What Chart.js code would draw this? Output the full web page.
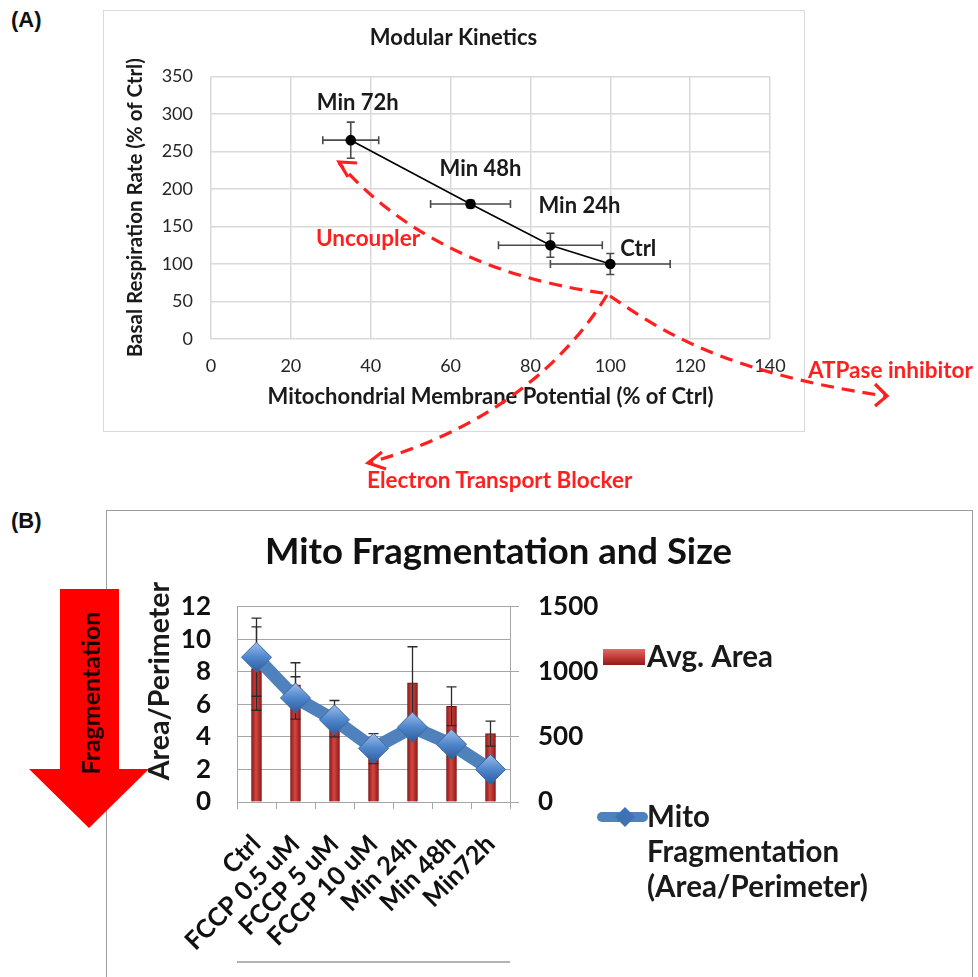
<!DOCTYPE html>
<html>
<head>
<meta charset="utf-8">
<script src="https://cdn.jsdelivr.net/npm/chart.js@4.4.1/dist/chart.umd.min.js"></script>
<style>
  body { margin: 0; background: #fff; }
  #page { position: relative; width: 978px; height: 977px; overflow: hidden; font-family: Lato, sans-serif; }
  #boxA { position: absolute; left: 103px; top: 10px; width: 700px; height: 420px; border: 1.5px solid #d9d9d9; }
  #boxB { position: absolute; left: 106px; top: 510px; width: 865px; height: 500px; border: 1.5px solid #9c9c9c; }
  #chartA { position: absolute; left: 103px; top: 10px; }
  #chartB { position: absolute; left: 107px; top: 510px; }
  #overlay { position: absolute; left: 0; top: 0; }
  .panel { position: absolute; font: bold 22px "Liberation Sans", Arial, sans-serif; color: #111; }
</style>
</head>
<body>
<div id="page">
  <div class="panel" style="left:11px;top:7px">(A)</div>
  <div class="panel" style="left:11px;top:508px">(B)</div>
  <div id="boxA"></div>
  <div id="boxB"></div>
  <canvas id="chartA" width="702" height="422"></canvas>
  <canvas id="chartB" width="866" height="467"></canvas>
  <svg id="overlay" width="978" height="977">
    <g fill="none" stroke="#ff1f1f" stroke-width="3.2" stroke-dasharray="13 8">
      <path d="M603,293 C530,283 420,255 339,163"/>
      <path d="M607,295 C578,342 512,423 368,463"/>
      <path d="M610,296 C660,330 722,372 885,396"/>
    </g>
    <g fill="none" stroke="#ff1f1f" stroke-width="3.2">
      <polyline points="357,163 339,162 348,177"/>
      <polyline points="382,452 368,463 386,469"/>
      <polyline points="875,384 887,396 875,406"/>
    </g>
    <g fill="#ff1f1f" font-family="Lato, sans-serif" font-weight="bold" font-size="22.5">
      <text x="316" y="246">Uncoupler</text>
      <text x="367" y="488">Electron Transport Blocker</text>
      <text x="808" y="378">ATPase inhibitor</text>
    </g>
    <polygon points="60,589 119,589 119,769 149,769 89,828 29,769 60,769" fill="#ff0000"/>
    <text transform="translate(90,693) rotate(-90)" text-anchor="middle" dominant-baseline="central"
          font-family="Lato, sans-serif" font-weight="bold" font-size="25" fill="#1a0000">Fragmentation</text>
    <line x1="237" y1="962" x2="510" y2="962" stroke="#b3b3b3" stroke-width="2"/>
  </svg>
</div>
<script>
// (A) Modular Kinetics
const stages = ["Ctrl", "Min 24h", "Min 48h", "Min 72h"];
const potential = [100, 85, 65, 35];
const potentialErr = [15, 13, 10, 7];
const respiration = [100, 125, 180, 265];
const respirationErr = [14, 16, 5, 24];
const potentialTicks = [0, 20, 40, 60, 80, 100, 120, 140];
const respirationTicks = [0, 50, 100, 150, 200, 250, 300, 350];

// (B) Mito Fragmentation and Size
const conditions = ["Ctrl", "FCCP 0.5 uM", "FCCP 5 uM", "FCCP 10 uM", "Min 24h", "Min 48h", "Min72h"];
const avgArea = [1025, 900, 640, 410, 915, 736, 526];
const avgAreaErr = [320, 170, 140, 115, 278, 149, 96];
const fragmentation = [8.9, 6.4, 5.05, 3.3, 4.6, 3.55, 2.0];
const fragmentationErr = [2.4, 1.3, 0.3, 0.3, 0.3, 0.3, 0.3];
const ratioTicks = [0, 2, 4, 6, 8, 10, 12];
const areaTicks = [0, 500, 1000, 1500];

// label placement for panel A (pixels from the point)
const labelOffsets = [[28, -15], [29, -39], [10, -35], [7, -37]];

Chart.defaults.font.family = "Lato, sans-serif";
Chart.defaults.color = "#1a1a1a";

const errorBarsA = {
    id: "errorBarsA",
    beforeDatasetsDraw(chart) {
        const { ctx, scales: { x, y } } = chart;
        ctx.save();
        ctx.strokeStyle = "#4a4a4a";
        ctx.lineWidth = 1.6;
        potential.forEach((p, i) => {
            const px = x.getPixelForValue(p);
            const py = y.getPixelForValue(respiration[i]);
            const xl = x.getPixelForValue(p - potentialErr[i]);
            const xr = x.getPixelForValue(p + potentialErr[i]);
            const yt = y.getPixelForValue(respiration[i] + respirationErr[i]);
            const yb = y.getPixelForValue(respiration[i] - respirationErr[i]);
            ctx.beginPath();
            ctx.moveTo(xl, py); ctx.lineTo(xr, py);
            ctx.moveTo(xl, py - 4); ctx.lineTo(xl, py + 4);
            ctx.moveTo(xr, py - 4); ctx.lineTo(xr, py + 4);
            ctx.moveTo(px, yt); ctx.lineTo(px, yb);
            ctx.moveTo(px - 4, yt); ctx.lineTo(px + 4, yt);
            ctx.moveTo(px - 4, yb); ctx.lineTo(px + 4, yb);
            ctx.stroke();
        });
        ctx.restore();
    },
    afterDatasetsDraw(chart) {
        const { ctx, scales: { x, y } } = chart;
        ctx.save();
        ctx.font = "bold 22px Lato, sans-serif";
        ctx.fillStyle = "#1a1a1a";
        ctx.textAlign = "center";
        ctx.textBaseline = "middle";
        stages.forEach((s, i) => {
            ctx.fillText(s, x.getPixelForValue(potential[i]) + labelOffsets[i][0],
                y.getPixelForValue(respiration[i]) + labelOffsets[i][1]);
        });
        ctx.restore();
    }
};

new Chart(document.getElementById("chartA"), {
    type: "scatter",
    data: {
        datasets: [{
            data: potential.map((p, i) => ({ x: p, y: respiration[i] })),
            showLine: true,
            borderColor: "#000",
            borderWidth: 1.6,
            pointRadius: 4.5,
            pointBackgroundColor: "#000",
            pointBorderColor: "#000"
        }]
    },
    options: {
        responsive: false,
        animation: false,
        layout: { padding: { left: 34, right: 35, top: 0, bottom: 20 } },
        plugins: {
            legend: { display: false },
            tooltip: { enabled: false },
            title: {
                display: true,
                text: "Modular Kinetics",
                color: "#1a1a1a",
                font: { size: 22, weight: "bold" },
                padding: { top: 15, bottom: 25 }
            }
        },
        scales: {
            x: {
                type: "linear",
                min: potentialTicks[0],
                max: potentialTicks[potentialTicks.length - 1],
                afterBuildTicks: s => { s.ticks = potentialTicks.map(v => ({ value: v })); },
                ticks: { padding: 16, color: "#262626", font: { size: 18 }, autoSkip: false },
                grid: { color: "#d9d9d9", lineWidth: 1.5, drawTicks: false },
                border: { display: false },
                title: {
                    display: true,
                    text: "Mitochondrial Membrane Potential (% of Ctrl)",
                    color: "#1a1a1a",
                    font: { size: 22, weight: "bold" },
                    padding: { top: 4, bottom: 2 }
                },
                afterFit: s => { s.height = 73; }
            },
            y: {
                min: respirationTicks[0],
                max: respirationTicks[respirationTicks.length - 1],
                afterBuildTicks: s => { s.ticks = respirationTicks.map(v => ({ value: v })); },
                ticks: { padding: 18, color: "#262626", font: { size: 18 }, autoSkip: false },
                grid: { color: "#d9d9d9", lineWidth: 1.5, drawTicks: false },
                border: { display: false },
                title: {
                    display: true,
                    text: "Basal Respiration Rate (% of Ctrl)",
                    color: "#1a1a1a",
                    font: { size: 20.5, weight: "bold" },
                    padding: { top: -14, bottom: 4 }
                },
                afterFit: s => { s.width = 74; }
            }
        }
    },
    plugins: [errorBarsA]
});

const errorBarsB = {
    id: "errorBarsB",
    afterDatasetDraw(chart, args) {
        if (args.meta.type !== "bar") return;
        const { ctx, scales: { x, y, y2 } } = chart;
        const bar = (px, top, bot) => {
            ctx.beginPath();
            ctx.moveTo(px, top); ctx.lineTo(px, bot);
            ctx.moveTo(px - 5, top); ctx.lineTo(px + 5, top);
            ctx.moveTo(px - 5, bot); ctx.lineTo(px + 5, bot);
            ctx.stroke();
        };
        ctx.save();
        ctx.strokeStyle = "#2b2b2b";
        ctx.lineWidth = 1.3;
        conditions.forEach((c, i) => {
            const px = x.getPixelForValue(i);
            bar(px, y2.getPixelForValue(avgArea[i] + avgAreaErr[i]), y2.getPixelForValue(avgArea[i] - avgAreaErr[i]));
            bar(px, y.getPixelForValue(fragmentation[i] + fragmentationErr[i]), y.getPixelForValue(fragmentation[i] - fragmentationErr[i]));
        });
        ctx.restore();
    }
};

const legendB = {
    id: "legendB",
    afterDraw(chart) {
        const ctx = chart.ctx;
        ctx.save();
        // left axis title
        ctx.font = "bold 28.5px Lato, sans-serif";
        ctx.fillStyle = "#1a1a1a";
        ctx.textAlign = "center";
        ctx.textBaseline = "middle";
        ctx.translate(53, 171);
        ctx.rotate(-Math.PI / 2);
        ctx.fillText("Area/Perimeter", 0, 0);
        ctx.setTransform(1, 0, 0, 1, 0, 0);

        // Avg. Area
        const g = ctx.createLinearGradient(0, 139, 0, 155);
        g.addColorStop(0, "#e46a66");
        g.addColorStop(0.5, "#c43c38");
        g.addColorStop(1, "#8e1b1b");
        ctx.fillStyle = g;
        ctx.fillRect(496, 139, 42, 16);
        ctx.fillStyle = "#1a1a1a";
        ctx.font = "bold 29.5px Lato, sans-serif";
        ctx.textAlign = "left";
        ctx.fillText(chart.data.datasets[1].label, 540, 147);

        // Mito Fragmentation
        ctx.strokeStyle = "#4f81bd";
        ctx.lineWidth = 10;
        ctx.lineCap = "round";
        ctx.beginPath();
        ctx.moveTo(495, 307); ctx.lineTo(536, 307);
        ctx.stroke();
        ctx.fillStyle = "#3f72b2";
        ctx.beginPath();
        ctx.moveTo(518, 297); ctx.lineTo(528, 307); ctx.lineTo(518, 317); ctx.lineTo(508, 307);
        ctx.closePath();
        ctx.fill();
        ctx.fillStyle = "#1a1a1a";
        ["Mito", "Fragmentation", "(Area/Perimeter)"].forEach((t, i) => ctx.fillText(t, 540, 307 + i * 35));
        ctx.restore();
    }
};

new Chart(document.getElementById("chartB"), {
    type: "bar",
    data: {
        labels: conditions,
        datasets: [{
            type: "line",
            label: "Mito Fragmentation (Area/Perimeter)",
            data: fragmentation,
            yAxisID: "y",
            order: 0,
            borderColor: "#4f81bd",
            borderWidth: 13,
            pointStyle: "rectRot",
            pointRadius: 15,
            pointBorderColor: "#3a69a4",
            pointBorderWidth: 1,
            pointBackgroundColor: c => {
                const chart = c.chart;
                if (c.type !== "data" || !chart.scales.y) return "#4f86cc";
                const py = chart.scales.y.getPixelForValue(c.parsed.y);
                if (!isFinite(py)) return "#4f86cc";
                const g = chart.ctx.createLinearGradient(0, py - 15, 0, py + 15);
                g.addColorStop(0, "#9dbde8");
                g.addColorStop(0.5, "#4f86cc");
                g.addColorStop(1, "#2d5d9c");
                return g;
            }
        }, {
            type: "bar",
            label: "Avg. Area",
            data: avgArea,
            yAxisID: "y2",
            order: 1,
            barThickness: 10,
            borderColor: "#7a1414",
            borderWidth: 1,
            backgroundColor: c => {
                const chart = c.chart;
                if (c.type !== "data" || !chart.scales.x) return "#c0504d";
                const px = chart.scales.x.getPixelForValue(c.dataIndex);
                if (!isFinite(px)) return "#c0504d";
                const g = chart.ctx.createLinearGradient(px - 5, 0, px + 5, 0);
                g.addColorStop(0, "#8a1a1a");
                g.addColorStop(0.45, "#d9453f");
                g.addColorStop(1, "#8a1a1a");
                return g;
            }
        }]
    },
    options: {
        responsive: false,
        animation: false,
        layout: { padding: { left: 33, right: 116, top: 0, bottom: 0 } },
        plugins: {
            legend: { display: false },
            tooltip: { enabled: false },
            title: {
                display: true,
                text: "Mito Fragmentation and Size",
                color: "#111",
                font: { size: 36.5, weight: "bold" },
                padding: { top: 20, bottom: 33 }
            }
        },
        scales: {
            x: {
                ticks: { minRotation: 45, maxRotation: 45, padding: 20, autoSkip: false, color: "#111", font: { size: 25.5, weight: "bold" } },
                grid: { drawOnChartArea: false, tickLength: 7, color: "#a6a6a6" },
                border: { color: "#a6a6a6" },
                afterFit: s => { s.height = 175; }
            },
            y: {
                position: "left",
                min: ratioTicks[0],
                max: ratioTicks[ratioTicks.length - 1],
                afterBuildTicks: s => { s.ticks = ratioTicks.map(v => ({ value: v })); },
                ticks: { padding: 26, autoSkip: false, color: "#111", font: { size: 26, weight: "bold" } },
                grid: { color: "#a6a6a6", drawTicks: false },
                border: { color: "#a6a6a6" },
                afterFit: s => { s.width = 97; }
            },
            y2: {
                position: "right",
                min: areaTicks[0],
                max: areaTicks[areaTicks.length - 1],
                afterBuildTicks: s => { s.ticks = areaTicks.map(v => ({ value: v })); },
                ticks: { padding: 19, autoSkip: false, color: "#111", font: { size: 26, weight: "bold" }, callback: v => String(v) },
                grid: { drawOnChartArea: false, tickLength: 9, color: "#a6a6a6" },
                border: { color: "#a6a6a6" },
                afterFit: s => { s.width = 347; }
            }
        }
    },
    plugins: [errorBarsB, legendB]
});
</script>
</body>
</html>
